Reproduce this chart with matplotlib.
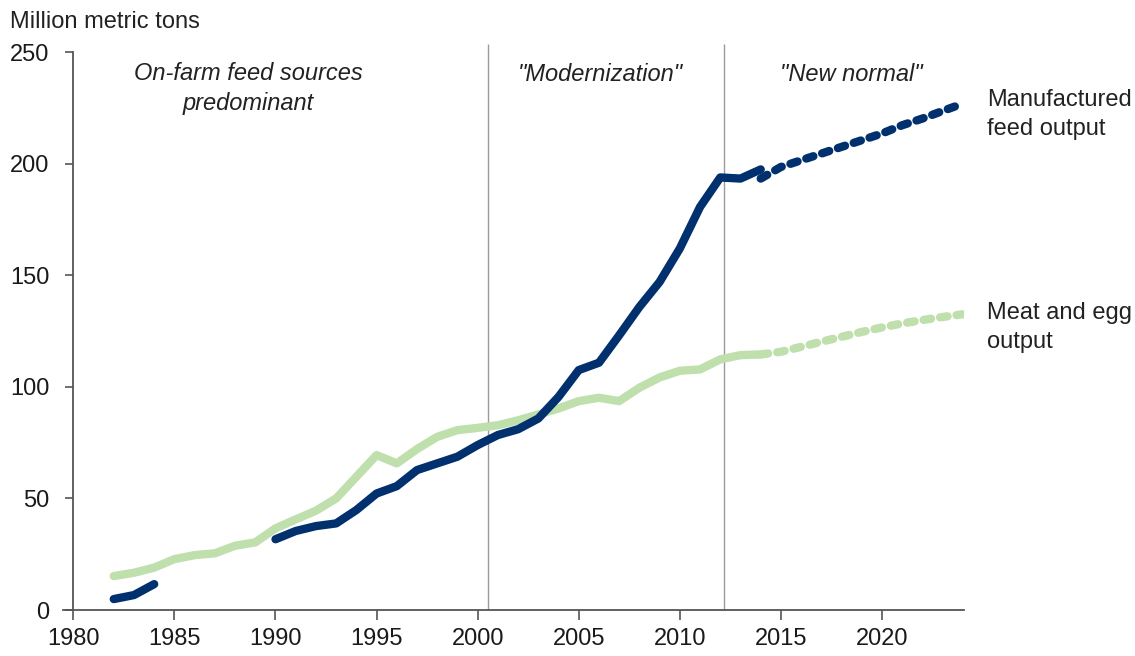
import matplotlib.pyplot as plt

plt.rcParams['font.family'] = ['Liberation Sans', 'DejaVu Sans']

# --- data (million metric tons) ---
feed_years_a = [1982, 1983, 1984]
feed_vals_a = [4.9, 6.7, 11.6]

feed_years_b = [1990, 1991, 1992, 1993, 1994, 1995, 1996, 1997, 1998, 1999,
                2000, 2001, 2002, 2003, 2004, 2005, 2006, 2007, 2008, 2009,
                2010, 2011, 2012, 2013, 2014]
feed_vals_b = [31.7, 35.4, 37.6, 38.8, 44.8, 52.2, 55.5, 62.7, 65.7, 68.7,
               73.9, 78.4, 81.0, 85.8, 95.5, 107.5, 110.8, 123.1, 135.8, 147.0,
               162.0, 180.6, 193.8, 193.3, 197.4]

feed_proj_years = [2014, 2015, 2016, 2017, 2018, 2019, 2020, 2021, 2022, 2023, 2024]
feed_proj_vals = [193.3, 198.5, 201.5, 204.5, 207.5, 210.5, 213.5, 217.2, 220.2, 223.6, 226.9]

meat_years = [1982, 1983, 1984, 1985, 1986, 1987, 1988, 1989, 1990, 1991,
              1992, 1993, 1994, 1995, 1996, 1997, 1998, 1999, 2000, 2001,
              2002, 2003, 2004, 2005, 2006, 2007, 2008, 2009, 2010, 2011,
              2012, 2013, 2014]
meat_vals = [15.2, 16.7, 19.0, 22.8, 24.6, 25.4, 28.8, 30.3, 36.6, 40.6,
             44.5, 50.0, 59.7, 69.4, 65.7, 72.1, 77.6, 80.6, 81.6, 82.8,
             85.0, 87.6, 90.3, 93.6, 95.1, 93.6, 99.6, 104.2, 107.2, 107.8,
             112.3, 114.2, 114.5]

meat_proj_years = [2014, 2015, 2016, 2017, 2018, 2019, 2020, 2021, 2022, 2023, 2024]
meat_proj_vals = [114.5, 115.7, 117.9, 120.2, 122.4, 124.6, 126.6, 128.4, 129.9, 131.3, 132.5]

period_breaks = [2000.5, 2012.2]

blue = "#00306e"
green = "#bfdfad"
lw = 6.0
fs = 17
dash = (0.9, 1.1)

fig = plt.figure(figsize=(11.35, 6.56), dpi=100)
ax = fig.add_axes([0.0557, 0.0701, 0.7939, 0.8506])

ax.vlines(period_breaks, 0, 253.5, color="#9a9a9a", lw=1.0, clip_on=False, zorder=1)

ax.plot(meat_years, meat_vals, color=green, lw=lw, solid_capstyle="round", zorder=2)
ax.plot(meat_proj_years, meat_proj_vals, color=green, lw=lw, dashes=dash,
        dash_capstyle="round", zorder=2)

ax.plot(feed_years_a, feed_vals_a, color=blue, lw=lw, solid_capstyle="round", zorder=3)
ax.plot(feed_years_b, feed_vals_b, color=blue, lw=lw, solid_capstyle="round", zorder=3)
ax.plot(feed_proj_years, feed_proj_vals, color=blue, lw=lw, dashes=dash,
        dash_capstyle="round", zorder=3)

ax.set_xlim(1979.5, 2024.07)
ax.set_ylim(0, 250)
ax.set_xticks([1980, 1985, 1990, 1995, 2000, 2005, 2010, 2015, 2020])
ax.set_yticks([0, 50, 100, 150, 200, 250])

for side in ["top", "right"]:
    ax.spines[side].set_visible(False)
ax.spines["left"].set_position(("data", 1980))
for side in ["left", "bottom"]:
    ax.spines[side].set_color("#555555")
    ax.spines[side].set_linewidth(1.3)

ax.tick_params(axis="x", length=7, width=1.2, color="#555555", labelsize=fs,
               labelcolor="#1a1a1a", pad=6)
ax.tick_params(axis="y", length=6, width=1.2, color="#555555", labelsize=fs,
               labelcolor="#1a1a1a", pad=11)

txt = dict(fontsize=fs, color="#222222", style="italic", ha="center", va="center")
ax.text(1988.64, 233.8, "On-farm feed sources\npredominant", linespacing=1.4, **txt)
ax.text(2006.05, 240, '"Modernization"', **txt)
ax.text(2018.5, 240, '"New normal"', **txt)

ax.text(2025.19, 221.9, "Manufactured\nfeed output", fontsize=fs, color="#222222",
        ha="left", va="center", linespacing=1.4, clip_on=False)
ax.text(2025.19, 126.7, "Meat and egg\noutput", fontsize=fs, color="#222222",
        ha="left", va="center", linespacing=1.4, clip_on=False)

fig.text(10 / 1135, 1 - 22 / 656, "Million metric tons", fontsize=fs, color="#222222",
         ha="left", va="center")

fig.savefig("out.png", dpi=100)
